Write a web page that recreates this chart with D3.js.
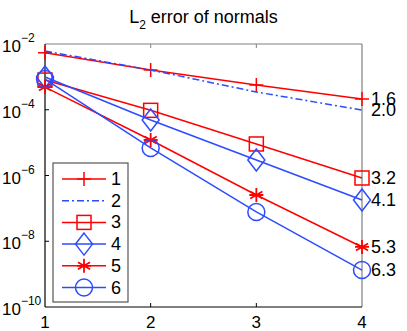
<!DOCTYPE html>
<html>
<head>
<meta charset="utf-8">
<script src="https://cdn.jsdelivr.net/npm/d3@7"></script>
<style>
  body { margin: 0; background: #fff; }
  text { font-family: "Liberation Sans", Arial, sans-serif; fill: #000; }
</style>
</head>
<body>
<div id="chart"></div>
<script>
// data
var levels = [1, 2, 3, 4];
var names = ["1", "2", "3", "4", "5", "6"];
var err1 = [5.4e-3, 1.62e-3, 5.66e-4, 2.12e-4];
var err2 = [6.1e-3, 1.62e-3, 3.47e-4, 9.8e-5];
var err3 = [8.0e-4, 9.6e-5, 9.1e-6, 8.4e-7];
var err4 = [9.9e-4, 4.9e-5, 2.96e-6, 1.8e-7];
var err5 = [4.9e-4, 1.2e-5, 2.55e-7, 6.7e-9];
var err6 = [8.6e-4, 6.9e-6, 7.8e-8, 1.33e-9];
var rates = ["1.6", "2.0", "3.2", "4.1", "5.3", "6.3"];
var yTickExp = [-2, -4, -6, -8, -10];

var red = "#ff0000", blue = "#2b4cff";
var series = [
  {name: names[0], vals: err1, color: red, marker: "plus", dash: null},
  {name: names[1], vals: err2, color: blue, marker: null, dash: "7,3,2,3"},
  {name: names[2], vals: err3, color: red, marker: "square", dash: null},
  {name: names[3], vals: err4, color: blue, marker: "diamond", dash: null},
  {name: names[4], vals: err5, color: red, marker: "star", dash: null},
  {name: names[5], vals: err6, color: blue, marker: "circle", dash: null}
];

var W = 407, H = 331;
var margin = {top: 44, right: 45, bottom: 24, left: 45};
var iw = W - margin.left - margin.right, ih = H - margin.top - margin.bottom;

var svg = d3.select("#chart").append("svg")
    .attr("width", W).attr("height", H);

var x = d3.scaleLinear().domain([1, 4]).range([margin.left, margin.left + iw]);
var y = d3.scaleLog().domain([1e-10, 1e-2]).range([margin.top + ih, margin.top]);

// title
var title = svg.append("text")
    .attr("x", W / 2).attr("y", 23)
    .attr("text-anchor", "middle")
    .style("font-size", "18px");
title.append("tspan").text("L");
title.append("tspan").attr("dy", 6).style("font-size", "12px").text("2");
title.append("tspan").attr("dy", -6).text(" error of normals");

// box: top/right grey, left/bottom black
var x0 = x(1), x1 = x(4), yTop = y(1e-2), yBot = y(1e-10);
svg.append("line").attr("x1", x0).attr("x2", x1).attr("y1", yTop).attr("y2", yTop)
  .attr("stroke", "#808080").attr("stroke-width", 1.2);
svg.append("line").attr("x1", x1).attr("x2", x1).attr("y1", yTop).attr("y2", yBot)
  .attr("stroke", "#808080").attr("stroke-width", 1.2);

// x ticks
var xAxis = svg.append("g");
levels.forEach(function(d) {
  if (d > 1 && d < 4) {
    xAxis.append("line").attr("x1", x(d)).attr("x2", x(d))
      .attr("y1", yBot).attr("y2", yBot - 4).attr("stroke", "#000");
    xAxis.append("line").attr("x1", x(d)).attr("x2", x(d))
      .attr("y1", yTop).attr("y2", yTop + 4).attr("stroke", "#808080");
  }
  xAxis.append("text").attr("x", x(d)).attr("y", yBot + 21)
    .attr("text-anchor", "middle").style("font-size", "17px").text(d);
});

// y ticks
var yAxis = svg.append("g");
yTickExp.forEach(function(e) {
  var v = Math.pow(10, e);
  if (e < -2 && e > -10) {
    yAxis.append("line").attr("x1", x0).attr("x2", x0 + 4)
      .attr("y1", y(v)).attr("y2", y(v)).attr("stroke", "#000");
  }
  var t = yAxis.append("text").attr("x", 2).attr("y", y(v) + 8)
    .style("font-size", "17px");
  t.append("tspan").text("10");
  t.append("tspan").attr("dy", -10).style("font-size", "12px").text("\u2212" + (-e));
});

svg.append("line").attr("x1", x0).attr("x2", x0).attr("y1", yTop).attr("y2", yBot)
  .attr("stroke", "#000").attr("stroke-width", 1.2);
svg.append("line").attr("x1", x0).attr("x2", x1).attr("y1", yBot).attr("y2", yBot)
  .attr("stroke", "#000").attr("stroke-width", 1.2);

function drawMarker(g, type, cx, cy, color) {
  if (type === "plus") {
    g.append("path").attr("d", "M" + (cx - 7) + "," + cy + "H" + (cx + 7) + "M" + cx + "," + (cy - 7) + "V" + (cy + 7))
      .attr("stroke", color).attr("stroke-width", 1.5).attr("fill", "none");
  } else if (type === "square") {
    g.append("rect").attr("x", cx - 7).attr("y", cy - 7).attr("width", 14).attr("height", 14)
      .attr("stroke", color).attr("stroke-width", 1.5).attr("fill", "none");
  } else if (type === "diamond") {
    g.append("path").attr("d", "M" + cx + "," + (cy - 11) + "L" + (cx + 8.5) + "," + cy + "L" + cx + "," + (cy + 11) + "L" + (cx - 8.5) + "," + cy + "Z")
      .attr("stroke", color).attr("stroke-width", 1.5).attr("fill", "none");
  } else if (type === "circle") {
    g.append("circle").attr("cx", cx).attr("cy", cy).attr("r", 8.5)
      .attr("stroke", color).attr("stroke-width", 1.5).attr("fill", "none");
  } else if (type === "star") {
    var r = 7, p = "";
    [0, 60, 120].forEach(function(a) {
      var rad = (a + 90) * Math.PI / 180;
      p += "M" + (cx - r * Math.cos(rad)) + "," + (cy - r * Math.sin(rad)) + "L" + (cx + r * Math.cos(rad)) + "," + (cy + r * Math.sin(rad));
    });
    p += "M" + (cx - r) + "," + cy + "H" + (cx + r);
    g.append("path").attr("d", p).attr("stroke", color).attr("stroke-width", 1.8).attr("fill", "none");
  }
}

var line = d3.line().x(function(d, i) { return x(levels[i]); }).y(function(d) { return y(d); });

series.forEach(function(s, k) {
  var g = svg.append("g");
  g.append("path").datum(s.vals).attr("d", line)
    .attr("fill", "none").attr("stroke", s.color).attr("stroke-width", 1.5)
    .attr("stroke-dasharray", s.dash);
  if (s.marker) {
    s.vals.forEach(function(v, i) { drawMarker(g, s.marker, x(levels[i]), y(v), s.color); });
  }
  var last = s.vals[s.vals.length - 1];
  svg.append("text").attr("x", x1 + 9).attr("y", y(last) + 6)
    .style("font-size", "18px").text(rates[k]);
});

// legend
var lg = svg.append("g");
lg.append("rect").attr("x", 53).attr("y", 163).attr("width", 75).attr("height", 139)
  .attr("fill", "#fff").attr("stroke", "#555").attr("stroke-width", 1.2);
series.forEach(function(s, k) {
  var ly = 179 + k * 21.7;
  lg.append("line").attr("x1", 62).attr("x2", 106).attr("y1", ly).attr("y2", ly)
    .attr("stroke", s.color).attr("stroke-width", 1.5).attr("stroke-dasharray", s.dash);
  if (s.marker) drawMarker(lg, s.marker, 84, ly, s.color);
  lg.append("text").attr("x", 111).attr("y", ly + 6).style("font-size", "18px").text(s.name);
});
</script>
</body>
</html>
